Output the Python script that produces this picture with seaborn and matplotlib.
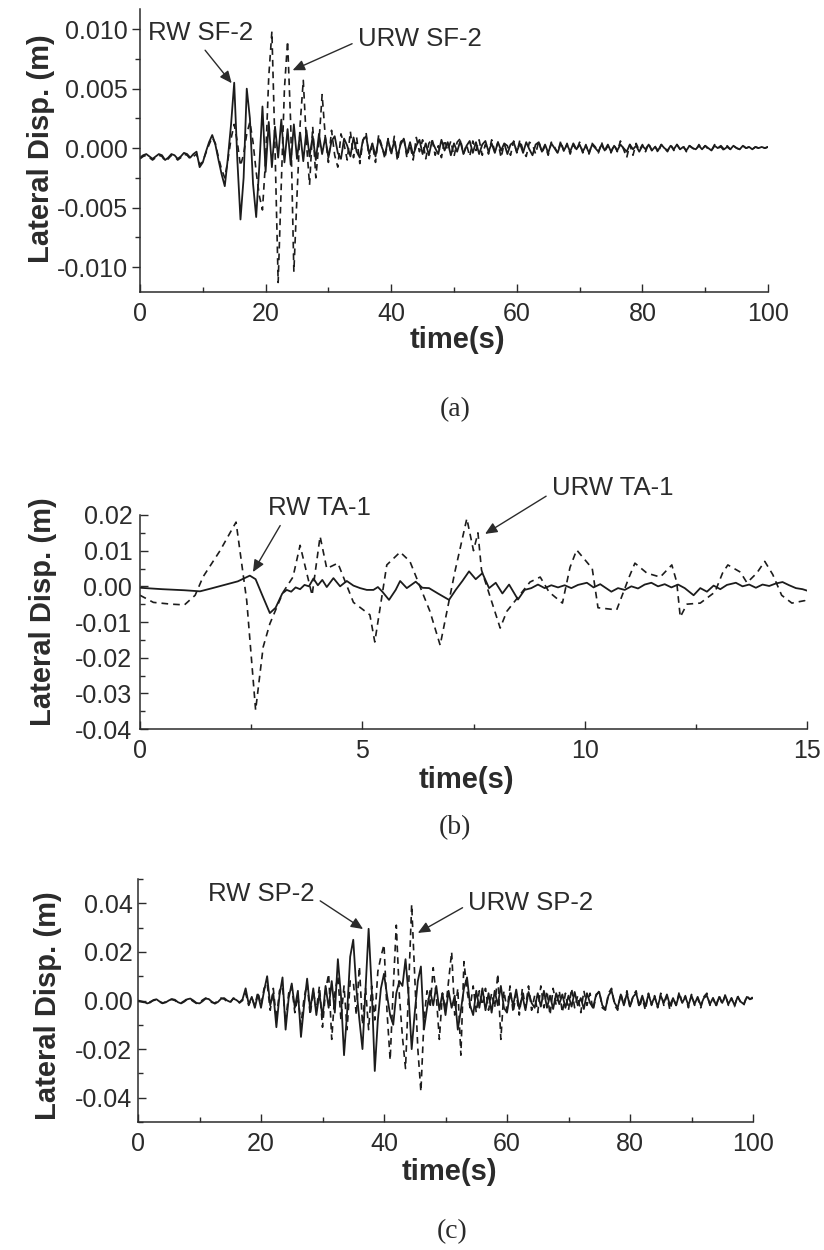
"""Lateral displacement time histories, restrained (RW) vs unrestrained (URW) walls."""
import matplotlib

matplotlib.use("Agg")
import matplotlib.pyplot as plt
import numpy as np
import seaborn as sns
from matplotlib.ticker import FormatStrFormatter, MultipleLocator

# ---------------------------------------------------------------------------
# data (displacements in mm, converted to m below)
# panel (a): SF-2, sampled every 0.5 s from 0 to 100 s
dt_a = 0.5
rw_sf2_mm = [
    -0.8, -0.6, -0.5, -0.7, -0.9, -0.7, -0.5, -0.6, -1.0, -0.8,
    -0.5, -0.6, -0.9, -0.7, -0.4, -0.5, -0.8, -0.5, -0.3, -1.6,
    -1.2, -0.3, 0.5, 1.1, 0.3, -1.0, -2.2, -3.2, -0.8, 2.0,
    5.5, -1.0, -6.0, -2.5, 5.0, 2.5, -3.0, -5.8, -1.5, 3.5,
    -2.0, 2.2, -1.6, 1.8, -0.8, 2.4, -1.2, 1.6, -1.4, 2.0,
    -0.9, 1.3, -1.1, 1.5, -0.7, 1.0, -1.0, 1.2, -0.5, 0.9,
    -0.8, 0.6, 1.0, -0.4, -0.9, 0.8, 0.2, -0.7, 0.9, -0.3,
    -0.8, 0.7, 1.0, -0.5, 0.4, -0.7, 0.8, 0.1, -0.6, 0.7,
    -0.4, 0.6, -0.7, 0.3, 0.8, -0.5, 0.5, -0.6, 0.2, 0.7,
    -0.5, 0.4, -0.6, 0.6, 0.0, -0.5, 0.7, -0.2, 0.5, -0.6,
    0.4, -0.3, 0.6, -0.5, 0.2, 0.6, -0.4, 0.5, -0.5, 0.3,
    0.6, -0.3, 0.4, -0.4, 0.5, -0.2, 0.4, -0.5, 0.3, 0.5,
    -0.3, 0.4, -0.4, 0.5, -0.1, -0.6, 0.3, 0.5, -0.3, 0.3,
    -0.4, 0.4, 0.0, -0.4, 0.4, -0.2, 0.3, -0.3, 0.4, -0.1,
    0.3, -0.3, 0.2, -0.4, 0.3, 0.0, -0.3, 0.3, -0.2, 0.3,
    -0.3, 0.2, -0.2, 0.3, 0.0, -0.3, 0.3, -0.1, 0.2, -0.3,
    0.2, -0.1, 0.3, -0.2, 0.1, -0.2, 0.3, 0.0, -0.2, 0.2,
    -0.1, 0.3, -0.1, 0.1, -0.2, 0.2, 0.0, -0.1, 0.2, -0.1,
    0.2, 0.0, -0.2, 0.2, 0.0, 0.2, -0.1, 0.1, -0.1, 0.2,
    0.0, -0.1, 0.2, 0.0, 0.1, -0.1, 0.1, 0.0, 0.1, 0.0,
    0.1,
]
urw_sf2_mm = [
    -0.9, -0.7, -0.6, -0.8, -1.0, -0.8, -0.6, -0.7, -1.1, -0.9,
    -0.6, -0.7, -1.0, -0.8, -0.5, -0.6, -0.9, -0.7, -0.5, -1.4,
    -1.1, -0.4, 0.3, 0.9, 0.4, -0.8, -1.8, -2.5, -1.0, 0.8,
    2.0, 0.5, -1.5, -0.5, 1.2, 2.2, 0.5, -2.0, -4.0, -5.2,
    -1.0, 6.0, 9.8, 0.0, -11.3, -3.0, 5.0, 9.0, 2.0, -10.4,
    -4.0, 2.0, 5.7, 0.5, -3.1, 1.8, -2.5, 0.5, 4.5, 1.0,
    -1.2, 1.5, -0.6, -1.6, 1.2, 0.3, -1.0, 1.4, -0.8, 0.9,
    -1.3, 0.6, 1.3, -0.9, 0.4, -1.2, 1.1, 0.2, -0.9, 0.8,
    -0.6, 1.0, -1.1, 0.5, 0.9, -0.8, 0.3, -1.0, 0.9, -0.3,
    0.7, -0.9, 0.4, 0.8, -0.6, 0.2, -0.8, 0.7, -0.2, 0.6,
    -0.7, 0.5, 0.8, -0.5, 0.3, -0.7, 0.6, -0.2, 0.7, -0.6,
    0.3, -0.5, 0.7, -0.3, 0.5, -0.8, 0.4, 0.2, -0.6, 0.6,
    -0.4, 0.7, -0.2, -0.7, 0.5, 0.3, -0.5, 0.6, -0.4, 0.2,
    -0.6, 0.5, 0.1, -0.4, 0.6, -0.3, 0.4, -0.5, 0.3, -0.2,
    0.5, -0.4, 0.3, -0.5, 0.4, 0.1, -0.4, 0.5, -0.3, 0.2,
    -0.4, 0.3, -0.3, 0.6, -0.1, -0.8, 0.3, -0.6, 0.4, -0.2,
    0.3, -0.3, 0.4, -0.2, 0.2, -0.4, 0.3, 0.0, -0.3, 0.3,
    -0.2, 0.3, -0.1, 0.2, -0.3, 0.2, 0.0, -0.2, 0.3, -0.1,
    0.2, -0.1, -0.2, 0.3, 0.0, 0.1, -0.2, 0.2, -0.1, 0.2,
    0.0, -0.1, 0.2, 0.0, 0.1, -0.1, 0.1, 0.0, 0.1, 0.0,
    0.1,
]

# panel (b): TA-1, turning points with their times (s)
rw_ta1_t = [
    0.0, 0.5, 1.0, 1.35, 1.6, 1.9, 2.2, 2.47, 2.6, 2.75,
    2.92, 3.05, 3.2, 3.3, 3.4, 3.5, 3.6, 3.7, 3.8, 3.9,
    4.0, 4.1, 4.2, 4.35, 4.5, 4.65, 4.8, 4.95, 5.1, 5.25,
    5.35, 5.45, 5.6, 5.75, 5.85, 6.0, 6.2, 6.35, 6.5, 6.7,
    6.95, 7.1, 7.25, 7.4, 7.55, 7.7, 7.85, 8.0, 8.15, 8.3,
    8.5, 8.65, 8.8, 8.95, 9.1, 9.25, 9.4, 9.55, 9.7, 9.85,
    10.05, 10.2, 10.35, 10.6, 10.75, 10.9, 11.05, 11.2, 11.35, 11.5,
    11.65, 11.8, 11.95, 12.1, 12.25, 12.45, 12.6, 12.75, 12.9, 13.05,
    13.2, 13.4, 13.55, 13.7, 13.85, 14.0, 14.15, 14.3, 14.45, 14.6,
    14.75, 14.9, 15.0,
]
rw_ta1_mm = [
    -0.4, -0.8, -1.1, -1.4, -0.6, 0.4, 1.4, 3.0, 2.0, -2.5,
    -7.5, -6.0, -2.0, -1.0, -1.5, -0.3, -0.8, 0.4, 0.0, 2.2,
    0.3, 1.8, -0.2, 2.3, 0.0, 1.5, 0.2, -0.5, -1.0, -1.0,
    -0.2, -1.5, -3.8, -1.0, 1.5, -0.5, 1.3, -0.4, -0.5, -2.0,
    -3.8, -1.0, 1.5, 4.2, 2.0, 3.7, -0.5, 1.0, -2.0, 0.5,
    -3.7, -1.0, -0.5, 0.5, -0.5, 0.3, -0.3, 0.3, -0.5, 0.4,
    1.0, -0.3, 0.6, -1.5, -0.5, -1.0, 0.0, -0.6, 0.5, 1.0,
    0.0, 0.6, -0.3, 0.5, -0.5, -2.5, -0.5, -1.5, 0.2, -0.8,
    0.4, 1.0, 0.0, 0.5, -0.4, 0.5, 0.1, 0.8, 1.2, 0.3,
    -0.5, -0.8, -1.2,
]
urw_ta1_t = [
    0.0, 0.3, 0.7, 1.0, 1.24, 1.42, 1.8, 2.16, 2.4, 2.6,
    2.77, 2.92, 3.22, 3.44, 3.6, 3.87, 4.05, 4.2, 4.45, 4.8,
    5.17, 5.28, 5.55, 5.85, 6.07, 6.52, 6.75, 7.08, 7.35, 7.5,
    7.6, 7.68, 8.1, 8.25, 8.77, 9.0, 9.2, 9.5, 9.67, 9.82,
    10.17, 10.3, 10.72, 11.0, 11.13, 11.4, 11.7, 11.96, 12.07, 12.15,
    12.3, 12.6, 12.93, 13.1, 13.22, 13.5, 13.65, 13.87, 14.05, 14.23,
    14.43, 14.66, 14.95, 15.0,
]
urw_ta1_mm = [
    -2.5, -4.5, -5.0, -5.2, -2.5, 2.7, 10.0, 18.0, -4.0, -34.7,
    -17.0, -10.5, -1.6, 2.6, 11.5, -2.5, 14.0, 5.0, 6.5, -4.5,
    -8.0, -15.6, 6.0, 9.6, 7.0, -7.0, -16.5, 4.0, 19.0, 10.0,
    15.0, 4.6, -11.7, -7.0, 1.2, 2.6, -1.6, -4.7, 5.3, 10.2,
    5.0, -6.0, -6.6, 2.6, 6.5, 3.7, 2.6, 6.0, 1.2, -8.6,
    -5.0, -4.7, -1.6, 3.7, 6.0, 4.0, 1.0, 3.7, 7.0, 3.3,
    -2.5, -4.7, -4.0, -3.0,
]

# panel (c): SP-2, sampled every 0.5 s from 0 to 100 s
dt_c = 0.5
rw_sp2_mm = [
    0.0, -0.3, -0.6, -1.2, -0.8, 0.2, 0.5, -0.4, -1.0, -0.8,
    0.0, 0.6, 0.3, -0.7, -1.2, -0.5, 0.5, 0.8, 0.0, -1.0,
    -1.2, -0.3, 0.8, 0.6, -0.5, -1.3, -0.6, 0.7, 1.0, 0.0,
    -0.6, 0.8, 0.2, -0.8, 0.5, 5.0, -1.5, 1.5, -3.0, 2.5,
    -3.0, 4.0, 10.0, -2.0, 3.0, -11.0, 2.0, 9.5, -12.0, 1.0,
    7.0, -3.0, 4.0, -15.0, -2.0, 9.0, -4.0, 5.0, -6.0, 3.0,
    -7.0, 6.0, -3.0, 8.0, -5.0, 17.0, 2.0, -22.5, -5.0, 18.0,
    25.0, 5.0, -8.0, -20.0, 5.0, 29.5, 5.0, -29.0, -8.0, 5.0,
    11.0, 2.0, -6.0, -10.0, 3.0, 8.0, 6.0, 17.0, 2.0, -20.0,
    -5.0, 8.0, 14.0, -12.0, -3.0, 4.0, -2.0, 6.0, -4.0, 3.0,
    -6.0, 4.0, -3.0, 2.0, -12.0, -4.0, 5.0, 9.5, -2.0, -6.0,
    4.0, -3.0, 5.0, -4.0, 3.0, -5.0, 4.0, -2.0, 6.0, -3.0,
    -5.0, 3.0, -2.0, 4.5, -3.5, 2.0, -4.0, 3.5, -1.0, -3.0,
    3.0, -2.5, 4.0, -3.0, 2.0, -3.5, 3.0, -1.5, 2.5, -3.0,
    2.0, -2.5, 3.5, -2.0, 1.0, -3.5, 3.0, -1.0, -3.0, 2.5,
    3.5, -2.0, -3.5, 2.0, 4.0, -1.0, -3.0, 2.5, -2.0, 3.0,
    -2.5, 1.5, 3.0, -2.0, 2.0, -2.5, 2.5, -1.5, 1.5, -2.5,
    2.0, -1.0, 2.5, -2.0, 1.0, -2.0, 2.5, -1.0, 1.5, -2.0,
    2.0, -1.5, 1.5, -2.0, 1.0, 2.0, -1.5, 1.0, -2.0, 1.5,
    -1.0, 2.0, -1.5, 1.0, -2.0, 1.5, -0.5, -1.5, 1.5, 0.5,
    1.0,
]
urw_sp2_mm = [
    -0.3, -0.5, -0.8, -1.0, -0.5, 0.0, 0.3, -0.6, -1.2, -0.5,
    0.3, 0.4, 0.0, -0.9, -1.0, -0.2, 0.7, 0.5, -0.4, -1.2,
    -0.8, 0.2, 1.0, 0.3, -0.8, -1.0, -0.2, 1.0, 0.6, -0.5,
    -0.9, 1.0, 0.5, -1.0, 0.0, 3.0, -2.0, 1.0, -2.0, 3.5,
    -2.0, 5.0, 7.0, -4.0, 5.0, -8.0, 4.0, 6.0, -9.0, 3.0,
    6.0, -5.0, 2.0, -10.0, 1.0, 7.0, -6.0, 4.0, -4.0, 6.0,
    -11.0, 4.0, 11.0, -16.0, 3.0, 10.0, -8.0, 6.0, -12.0, 8.0,
    8.0, -6.0, 14.0, -10.0, 5.0, -12.0, 6.0, -8.0, 12.0, 18.0,
    23.0, -5.0, -24.5, 5.0, 31.0, 2.0, -15.0, -28.0, 5.0, 39.5,
    10.0, -20.0, -37.5, -8.0, 4.0, -3.0, 13.5, 2.0, -16.0, 3.0,
    -4.0, 8.0, 20.0, -6.0, 5.0, -22.5, 16.0, 4.0, -3.0, 6.0,
    -5.0, 4.0, -2.0, 5.0, -4.0, 3.0, -3.0, 11.0, -16.0, 4.0,
    -4.0, 6.0, -5.0, 3.0, -6.0, 5.0, -3.0, 6.0, -4.0, 2.0,
    -5.0, 6.0, -3.0, 4.0, -6.0, 5.0, -2.0, 4.0, -5.0, 3.0,
    -4.0, 5.0, -3.0, 2.0, -5.0, 4.0, -2.0, 3.0, -4.0, 2.0,
    4.0, -3.0, -4.0, 3.0, 5.0, -2.0, -4.0, 3.0, -2.0, 4.0,
    -3.0, 2.0, 4.0, -3.0, 1.0, -4.0, 3.0, -2.0, 2.0, -3.0,
    3.0, -2.0, 2.0, -4.0, 1.0, -2.0, 3.5, -1.0, 2.0, -3.0,
    2.5, -2.0, 1.0, -3.0, 1.5, 3.0, -2.0, 1.0, -2.5, 2.0,
    -1.5, 2.5, -2.0, 1.0, -2.5, 2.0, -1.0, -2.0, 2.0, 0.5,
    1.5,
]

panel_letters = ["(a)", "(b)", "(c)"]
series_labels = [
    ("RW SF-2", "URW SF-2"),
    ("RW TA-1", "URW TA-1"),
    ("RW SP-2", "URW SP-2"),
]
y_label = "Lateral Disp. (m)"
x_label = "time(s)"

# ---------------------------------------------------------------------------
sns.set_theme(style="ticks")
plt.rcParams["font.family"] = ["Liberation Sans", "DejaVu Sans"]

INK = "#2b2b2b"
LINE = "#1c1c1c"
W, H = 824, 1250


def px_axes(fig, left, right, top, bottom):
    """Add axes from pixel edges measured on the reference."""
    return fig.add_axes([left / W, 1 - bottom / H, (right - left) / W, (bottom - top) / H])


def draw_pair(ax, t_rw, rw_mm, t_urw, urw_mm):
    sns.lineplot(x=t_urw, y=np.asarray(urw_mm) / 1000.0, ax=ax, color=LINE,
                 linewidth=1.2, linestyle=(0, (4, 3)), estimator=None, sort=False)
    sns.lineplot(x=t_rw, y=np.asarray(rw_mm) / 1000.0, ax=ax, color=LINE,
                 linewidth=1.3, estimator=None, sort=False)


def style_axes(ax, xlim, ylim, xmaj, xmin, ymaj, ymin, yfmt, ydir, ypad):
    ax.set_xlim(*xlim)
    ax.set_ylim(*ylim)
    ax.xaxis.set_major_locator(MultipleLocator(xmaj))
    ax.xaxis.set_minor_locator(MultipleLocator(xmin))
    ax.yaxis.set_major_locator(MultipleLocator(ymaj))
    ax.yaxis.set_minor_locator(MultipleLocator(ymin))
    ax.yaxis.set_major_formatter(FormatStrFormatter(yfmt))
    sns.despine(ax=ax)
    for side in ("left", "bottom"):
        ax.spines[side].set_linewidth(1.1)
        ax.spines[side].set_color(INK)
    ax.tick_params(axis="x", which="both", direction="in", color=INK,
                   labelcolor=INK, labelsize=18, pad=7, width=1.0)
    ax.tick_params(axis="y", which="both", direction=ydir, color=INK,
                   labelcolor=INK, labelsize=18, pad=ypad, width=1.0)
    ax.tick_params(which="major", length=6)
    ax.tick_params(which="minor", length=3.5)


def labels(ax, xl, yl):
    ax.set_xlabel(x_label, fontsize=21, fontweight="bold", color=INK, va="center")
    ax.set_ylabel(y_label, fontsize=21, fontweight="bold", color=INK, va="center")
    ax.xaxis.set_label_coords(*xl)
    ax.yaxis.set_label_coords(*yl)


def pointer(ax, text, xy, xytext, relpos, ha, va):
    ax.annotate(
        text, xy=xy, xytext=xytext, ha=ha, va=va, fontsize=18.5, color=INK,
        annotation_clip=False,
        arrowprops=dict(arrowstyle="-|>,head_length=0.45,head_width=0.2",
                        mutation_scale=16, color=INK, lw=1.0,
                        relpos=relpos, shrinkA=2, shrinkB=0),
    )


fig = plt.figure(figsize=(W / 100, H / 100), dpi=100)

# (a) -----------------------------------------------------------------------
ax_a = px_axes(fig, 140, 768, 9, 292)
t_a = np.arange(len(rw_sf2_mm)) * dt_a
draw_pair(ax_a, t_a, rw_sf2_mm, t_a, urw_sf2_mm)
style_axes(ax_a, (0, 100), (-0.0121, 0.0117), 20, 10, 0.005, 0.0025, "%.3f", "out", 3.0)
labels(ax_a, (0.505, -0.17), (-0.158, 0.505))
pointer(ax_a, series_labels[0][0], (14.6, 0.00546), (1.3, 0.0097), (0.5, 0.0), "left", "center")
pointer(ax_a, series_labels[0][1], (24.3, 0.00655), (34.7, 0.0092), (0.0, 0.4), "left", "center")

# (b) -----------------------------------------------------------------------
ax_b = px_axes(fig, 140, 807, 515, 729)
draw_pair(ax_b, rw_ta1_t, rw_ta1_mm, urw_ta1_t, urw_ta1_mm)
style_axes(ax_b, (0, 15), (-0.04, 0.02), 5, 2.5, 0.01, 0.005, "%.2f", "in", 5.5)
labels(ax_b, (0.49, -0.238), (-0.145, 0.547))
pointer(ax_b, series_labels[1][0], (2.54, 0.004), (2.88, 0.022), (0.15, 0.0), "left", "center")
pointer(ax_b, series_labels[1][1], (7.76, 0.0147), (9.26, 0.0276), (0.0, 0.3), "left", "center")

# (c) -----------------------------------------------------------------------
ax_c = px_axes(fig, 138, 753, 879, 1122)
t_c = np.arange(len(rw_sp2_mm)) * dt_c
draw_pair(ax_c, t_c, rw_sp2_mm, t_c, urw_sp2_mm)
style_axes(ax_c, (0, 100), (-0.05, 0.05), 20, 10, 0.02, 0.01, "%.2f", "in", 4)
labels(ax_c, (0.507, -0.206), (-0.146, 0.477))
pointer(ax_c, series_labels[2][0], (36.6, 0.0294), (11.4, 0.044), (1.0, 0.35), "left", "center")
pointer(ax_c, series_labels[2][1], (45.5, 0.0278), (53.7, 0.040), (0.0, 0.45), "left", "center")

# panel letters
for letter, (x, y) in zip(panel_letters, [(455, 410), (455, 828), (452, 1232)]):
    fig.text(x / W, 1 - y / H, letter, ha="center", va="center", fontsize=20,
             family=["Liberation Serif", "DejaVu Serif"], color=INK)

fig.savefig("out.png", dpi=100)
plt.close(fig)
